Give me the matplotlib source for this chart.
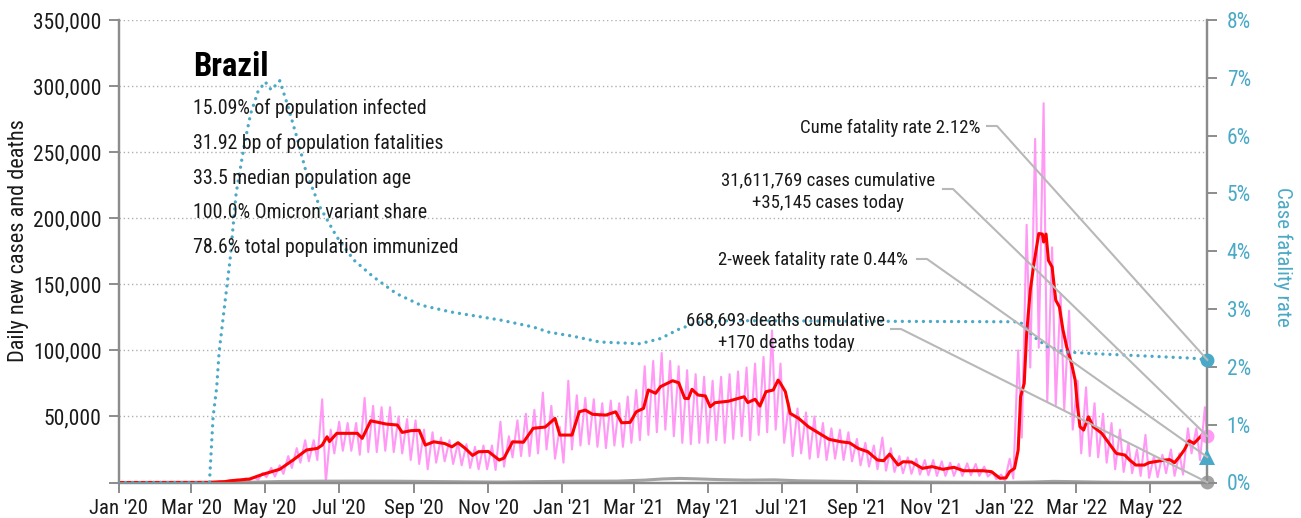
import pandas as pd
import matplotlib
matplotlib.use("Agg")
import matplotlib.pyplot as plt
import matplotlib.dates as mdates
from matplotlib import font_manager
from matplotlib.lines import Line2D
from matplotlib.transforms import IdentityTransform
from matplotlib.ticker import FuncFormatter

# pick the narrowest sans available
installed = {(f.name, f.stretch) for f in font_manager.fontManager.ttflist}
names = {n for n, _ in installed}
FONT, STRETCH = "DejaVu Sans", "normal"
for cand in ["Liberation Sans Narrow", "Roboto Condensed", "Open Sans Condensed"]:
    if cand in names:
        FONT = cand
        break
else:
    if ("DejaVu Sans", "condensed") in installed or ("DejaVu Sans", "semi-condensed") in installed:
        FONT, STRETCH = "DejaVu Sans", "condensed"
    elif "Roboto" in names:
        FONT = "Roboto"
plt.rcParams['font.family'] = [FONT, 'DejaVu Sans']
plt.rcParams['font.stretch'] = STRETCH

# ---- daily new cases: weekly high / low readings (week starting Sunday) ----
week_start = pd.date_range("2020-03-01", periods=120, freq="7D")
daily_high = [10, 100, 500, 900, 1300, 2200, 3100, 4000, 7200, 11000,
              13000, 20000, 26000, 32000, 32000, 63000, 40000, 46000, 45000, 45000,
              64000, 58000, 57000, 57000, 50000, 48000, 47000, 40000, 38000, 34000,
              32000, 30000, 29000, 27000, 28000, 28000, 46000, 35000, 47000, 52000,
              55000, 68000, 58000, 42000, 77000, 66000, 64000, 63000, 60000, 62000,
              60000, 65000, 70000, 88000, 92000, 98000, 92000, 88000, 85000, 82000,
              80000, 77000, 80000, 82000, 84000, 87000, 90000, 95000, 115000, 90000,
              60000, 56000, 53000, 50000, 45000, 41000, 40000, 38000, 33000, 30000,
              28000, 34000, 26000, 20000, 19000, 18000, 17000, 17000, 16000, 15000,
              14000, 14500, 14000, 12000, 8000, 6000, 18000, 100000, 195000, 260000,
              287000, 178000, 143000, 130000, 77000, 72000, 60000, 52000, 45000, 40000,
              30000, 25000, 36000, 20000, 21000, 25000, 22000, 41000, 41000, 57000]
daily_low = [0, 30, 150, 300, 600, 1000, 1500, 2000, 4000, 4500,
             6500, 11000, 15000, 16000, 17000, 0, 22000, 24000, 24000, 21000,
             23000, 23000, 24000, 23000, 22000, 17000, 14000, 10000, 15000, 16000,
             14000, 13000, 11000, 10000, 10000, 9500, 12000, 19000, 20000, 20000,
             22000, 25000, 18000, 15000, 25000, 28000, 29000, 27000, 26000, 28000,
             27000, 30000, 32000, 36000, 38000, 40000, 35000, 30000, 29000, 30000,
             30000, 32000, 30000, 33000, 35000, 32000, 36000, 38000, 40000, 30000,
             20000, 22000, 18000, 19000, 17000, 18000, 17000, 16000, 13000, 12000,
             10000, 9000, 8000, 7000, 6500, 6000, 5500, 5000, 5000, 5000,
             5000, 5500, 5000, 4500, 2500, 1500, 3000, 34000, 87000, 102000,
             61000, 58600, 55000, 40000, 22000, 20000, 19000, 15000, 10000, 8000,
             7000, 5000, 3500, 4000, 7000, 5000, 6000, 22000, 17000, 20000]
last_day = pd.Timestamp("2022-06-17")
cases_today = 35145

# ---- 7-day average of new cases ----
avg_dates = ["2020-01-01", "2020-03-15", "2020-03-29", "2020-04-02", "2020-04-18", "2020-04-29",
             "2020-05-13", "2020-05-24", "2020-06-04", "2020-06-13", "2020-06-17", "2020-06-21",
             "2020-06-23", "2020-06-29", "2020-07-16", "2020-07-20", "2020-07-27", "2020-08-09",
             "2020-08-18", "2020-08-22", "2020-08-29", "2020-09-05", "2020-09-10", "2020-09-17",
             "2020-09-26", "2020-10-02", "2020-10-07", "2020-10-13", "2020-10-19", "2020-10-24",
             "2020-11-01", "2020-11-10", "2020-11-14", "2020-11-21", "2020-11-30", "2020-12-08",
             "2020-12-18", "2020-12-26", "2020-12-30", "2021-01-09", "2021-01-15", "2021-01-20",
             "2021-01-26", "2021-02-06", "2021-02-14", "2021-02-19", "2021-02-26", "2021-03-03",
             "2021-03-09", "2021-03-13", "2021-03-19", "2021-03-23", "2021-04-02", "2021-04-07",
             "2021-04-12", "2021-04-15", "2021-04-18", "2021-04-23", "2021-04-29", "2021-05-03",
             "2021-05-07", "2021-05-18", "2021-05-31", "2021-06-03", "2021-06-09", "2021-06-13",
             "2021-06-18", "2021-06-24", "2021-06-28", "2021-06-30", "2021-07-04", "2021-07-08",
             "2021-07-15", "2021-07-23", "2021-08-01", "2021-08-09", "2021-08-19", "2021-08-26",
             "2021-09-02", "2021-09-10", "2021-09-18", "2021-09-23", "2021-09-28", "2021-10-05",
             "2021-10-09", "2021-10-16", "2021-10-25", "2021-11-02", "2021-11-11", "2021-11-20",
             "2021-11-28", "2021-12-14", "2021-12-21", "2021-12-28", "2022-01-02", "2022-01-05",
             "2022-01-09", "2022-01-12", "2022-01-14", "2022-01-17", "2022-01-19", "2022-01-22",
             "2022-01-25", "2022-01-29", "2022-02-01", "2022-02-02", "2022-02-04", "2022-02-06",
             "2022-02-09", "2022-02-12", "2022-02-15", "2022-02-18", "2022-02-21", "2022-02-25",
             "2022-02-28", "2022-03-02", "2022-03-04", "2022-03-07", "2022-03-11", "2022-03-15",
             "2022-03-22", "2022-03-28", "2022-04-03", "2022-04-10", "2022-04-14", "2022-04-19",
             "2022-04-26", "2022-04-30", "2022-05-13", "2022-05-17", "2022-05-21", "2022-05-25",
             "2022-05-29", "2022-06-02", "2022-06-06", "2022-06-10", "2022-06-14", "2022-06-17"]
avg_cases = [0, 100, 700, 1300, 2600, 6200,
             10000, 17000, 24600, 25800, 28300, 34600,
             31000, 37200, 37200, 33400, 46700, 44200,
             43500, 37900, 39200, 39500, 28300, 30800,
             29500, 27000, 30100, 25800, 20500, 23300,
             23500, 17000, 18500, 30800, 30500, 41000,
             42000, 48500, 35900, 35900, 53500, 54800,
             51600, 51000, 53500, 45200, 45500, 53500,
             56100, 70000, 67500, 72500, 77000, 75500,
             63700, 63500, 70500, 66200, 65500, 57300,
             60400, 61500, 64900, 60500, 63000, 57800,
             68700, 70000, 77500, 75000, 68700, 52300,
             48500, 42200, 37200, 32700, 30800, 30000,
             25800, 23300, 17000, 16500, 21500, 13200,
             15700, 15500, 10700, 12000, 10000, 11500,
             8900, 8900, 8200, 3200, 3500, 8200,
             10700, 24600, 64900, 75000, 112800, 145500,
             165700, 188400, 188000, 182000, 188000, 168000,
             163100, 138000, 132900, 115300, 102700, 90100,
             77500, 57300, 42200, 39700, 49700, 42200,
             37200, 29600, 22000, 20800, 17000, 13200,
             13200, 15000, 17000, 17300, 15000, 19500,
             24600, 31600, 29600, 33400, 37200, 33000]

# ---- daily deaths (7-day average) ----
death_dates = ["2020-01-01", "2020-03-20", "2020-04-15", "2020-05-15", "2020-06-15", "2020-07-15",
               "2020-08-15", "2020-09-15", "2020-10-15", "2020-11-10", "2020-12-15", "2021-01-15",
               "2021-02-15", "2021-03-10", "2021-03-25", "2021-04-08", "2021-04-20", "2021-05-10",
               "2021-06-01", "2021-06-25", "2021-07-15", "2021-08-15", "2021-09-15", "2021-10-15",
               "2021-11-15", "2021-12-15", "2022-01-05", "2022-01-25", "2022-02-10", "2022-03-01",
               "2022-03-20", "2022-04-15", "2022-05-15", "2022-06-17"]
deaths = [0, 20, 150, 800, 1000, 1050,
          1000, 750, 500, 350, 700, 1000,
          1050, 1800, 2700, 3100, 2800, 2200,
          1800, 2000, 1300, 900, 550, 400,
          250, 150, 100, 400, 850, 600,
          300, 100, 120, 170]

# ---- case fatality rate (%) ----
cfr_dates = ["2020-01-01", "2020-03-16", "2020-03-19", "2020-03-22", "2020-03-24", "2020-03-29",
             "2020-04-02", "2020-04-07", "2020-04-14", "2020-04-19", "2020-04-25", "2020-05-01",
             "2020-05-06", "2020-05-13", "2020-05-19", "2020-05-27", "2020-06-04", "2020-06-15",
             "2020-06-29", "2020-07-13", "2020-07-29", "2020-08-17", "2020-09-06", "2020-10-01",
             "2020-11-11", "2020-12-08", "2020-12-21", "2021-01-10", "2021-02-01", "2021-03-06",
             "2021-03-23", "2021-04-08", "2021-04-25", "2021-05-22", "2021-09-01", "2022-01-10",
             "2022-01-14", "2022-01-25", "2022-02-05", "2022-02-19", "2022-03-14", "2022-04-25",
             "2022-06-05", "2022-06-17"]
cfr = [0, 0, 1.13, 1.65, 2.26, 3.15,
       3.85, 5.0, 5.87, 6.38, 6.76, 6.93,
       6.79, 6.95, 6.56, 5.98, 5.35, 4.77,
       4.25, 3.85, 3.56, 3.27, 3.07, 2.95,
       2.81, 2.69, 2.6, 2.53, 2.43, 2.40,
       2.49, 2.66, 2.78, 2.80, 2.79, 2.78,
       2.77, 2.52, 2.35, 2.26, 2.23, 2.19,
       2.15, 2.12]
cfr_2week = 0.44
deaths_today = 170

info_lines = ["15.09% of population infected",
              "31.92 bp of population fatalities",
              "33.5 median population age",
              "100.0% Omicron variant share",
              "78.6% total population immunized"]

PINK, RED, TEAL, GRAY = "#ff99f5", "#ff0000", "#4aa9c6", "#a3a3a3"
LEADER = "#b8b8b8"
INK = "#1a1a1a"
W, H = 1301, 518

# zig-zag daily series from the weekly highs and lows
pts = [(pd.Timestamp("2020-01-01"), 0), (pd.Timestamp("2020-02-28"), 0)]
for d, hi, lo in zip(week_start, daily_high, daily_low):
    pts.append((d + pd.Timedelta(days=3), hi))
    pts.append((d + pd.Timedelta(days=6), lo))
pts.append((last_day, cases_today))
daily_dates = [p[0] for p in pts]
daily_cases = [p[1] for p in pts]

fig = plt.figure(figsize=(W / 100, H / 100), dpi=100)
ax = fig.add_axes([118.5 / W, 1 - 482.5 / H, (1207.3 - 118.5) / W, (482.5 - 20) / H])
ax2 = ax.twinx()

ax.plot(daily_dates, daily_cases, color=PINK, lw=1.5, zorder=2)
ax.plot(pd.to_datetime(avg_dates), avg_cases, color=RED, lw=2.2, zorder=3)
ax.plot(pd.to_datetime(death_dates), deaths, color=GRAY, lw=2.2, zorder=2)
ax2.plot(pd.to_datetime(cfr_dates), cfr, color=TEAL, lw=2.4, ls=(0, (0.01, 2.1)),
         dash_capstyle="round", zorder=3)

x0, x1 = pd.Timestamp("2020-01-01"), last_day
ax.set_xlim(x0, x1)
ax.set_ylim(0, 350000)
ax2.set_ylim(0, 8)

ax.set_yticks(range(0, 350001, 50000))
ax.yaxis.set_major_formatter(FuncFormatter(lambda v, p: "" if v == 0 else f"{int(v):,}"))
ax2.set_yticks(range(0, 9))
ax2.yaxis.set_major_formatter(FuncFormatter(lambda v, p: f"{int(v)}%"))
ax.set_xticks(pd.date_range("2020-01-01", "2022-05-01", freq="2MS"))
ax.xaxis.set_major_formatter(mdates.DateFormatter("%b '%y"))

for g in range(50000, 350001, 50000):
    ax.axhline(g, color="#b0b0b0", lw=1, ls=(0, (1, 2)), zorder=0)

for a in (ax, ax2):
    a.spines["top"].set_visible(False)
    for s in ("left", "right", "bottom"):
        a.spines[s].set_color("#8c8c8c")
        a.spines[s].set_linewidth(1.6)
ax.tick_params(axis="both", length=7, width=1.4, color="#8c8c8c", labelcolor=INK)
ax.tick_params(axis="y", labelsize=15.5, pad=5)
ax.tick_params(axis="x", labelsize=15, pad=5)
ax2.tick_params(axis="y", length=7, width=1.4, color="#8c8c8c", labelsize=15.5,
                labelcolor=TEAL, pad=7)
ax.set_ylabel("Daily new cases and deaths", fontsize=16, color=INK, va="center")
ax.yaxis.set_label_coords(-0.092, 0.524)
ax2.set_ylabel("Case fatality rate", fontsize=15, color=TEAL, rotation=270, va="center")
ax2.yaxis.set_label_coords(1.0695, 0.488)

# end-of-series markers
mk = dict(clip_on=False, zorder=6, markeredgewidth=0)
ax2.plot([last_day], [cfr[-1]], "o", color=TEAL, ms=10, **mk)
ax.plot([last_day], [cases_today], "o", color=PINK, ms=10, **mk)
ax2.plot([last_day], [cfr_2week], "^", color=TEAL, ms=12, **mk)
ax.plot([last_day], [deaths_today], "o", color=GRAY, ms=10, **mk)

# info block
fig.text(193 / W, 1 - 76 / H, "Brazil", fontsize=23.5, fontweight="bold", va="baseline",
         color="#000000")
for i, line in enumerate(info_lines):
    fig.text(193 / W, 1 - (114.5 + 34.5 * i) / H, line, fontsize=14.3, va="baseline",
             color=INK)

# annotations with leader lines
tfont = dict(fontsize=13.5, va="baseline", color=INK)
fig.text(980 / W, 1 - 133 / H, "Cume fatality rate 2.12%", ha="right", **tfont)
fig.text(828 / W, 1 - 185 / H, "31,611,769 cases cumulative", ha="center", **tfont)
fig.text(828 / W, 1 - 208.5 / H, "+35,145 cases today", ha="center", **tfont)
fig.text(908 / W, 1 - 265 / H, "2-week fatality rate 0.44%", ha="right", **tfont)
fig.text(786 / W, 1 - 325 / H, "668,693 deaths cumulative", ha="center", **tfont)
fig.text(786 / W, 1 - 348.5 / H, "+170 deaths today", ha="center", **tfont)


def leader(start_x, start_y, axis, value):
    end = axis.transData.transform((mdates.date2num(last_day), value))
    xs = [start_x, start_x + 10, end[0]]
    ys = [H - start_y, H - start_y, end[1]]
    fig.add_artist(Line2D(xs, ys, transform=IdentityTransform(), color=LEADER,
                          lw=1.5, zorder=5))


leader(987, 126, ax2, cfr[-1])
leader(943, 189, ax, cases_today)
leader(917, 259, ax2, cfr_2week)
leader(891, 329, ax, deaths_today)

fig.savefig("out.png", dpi=100)
